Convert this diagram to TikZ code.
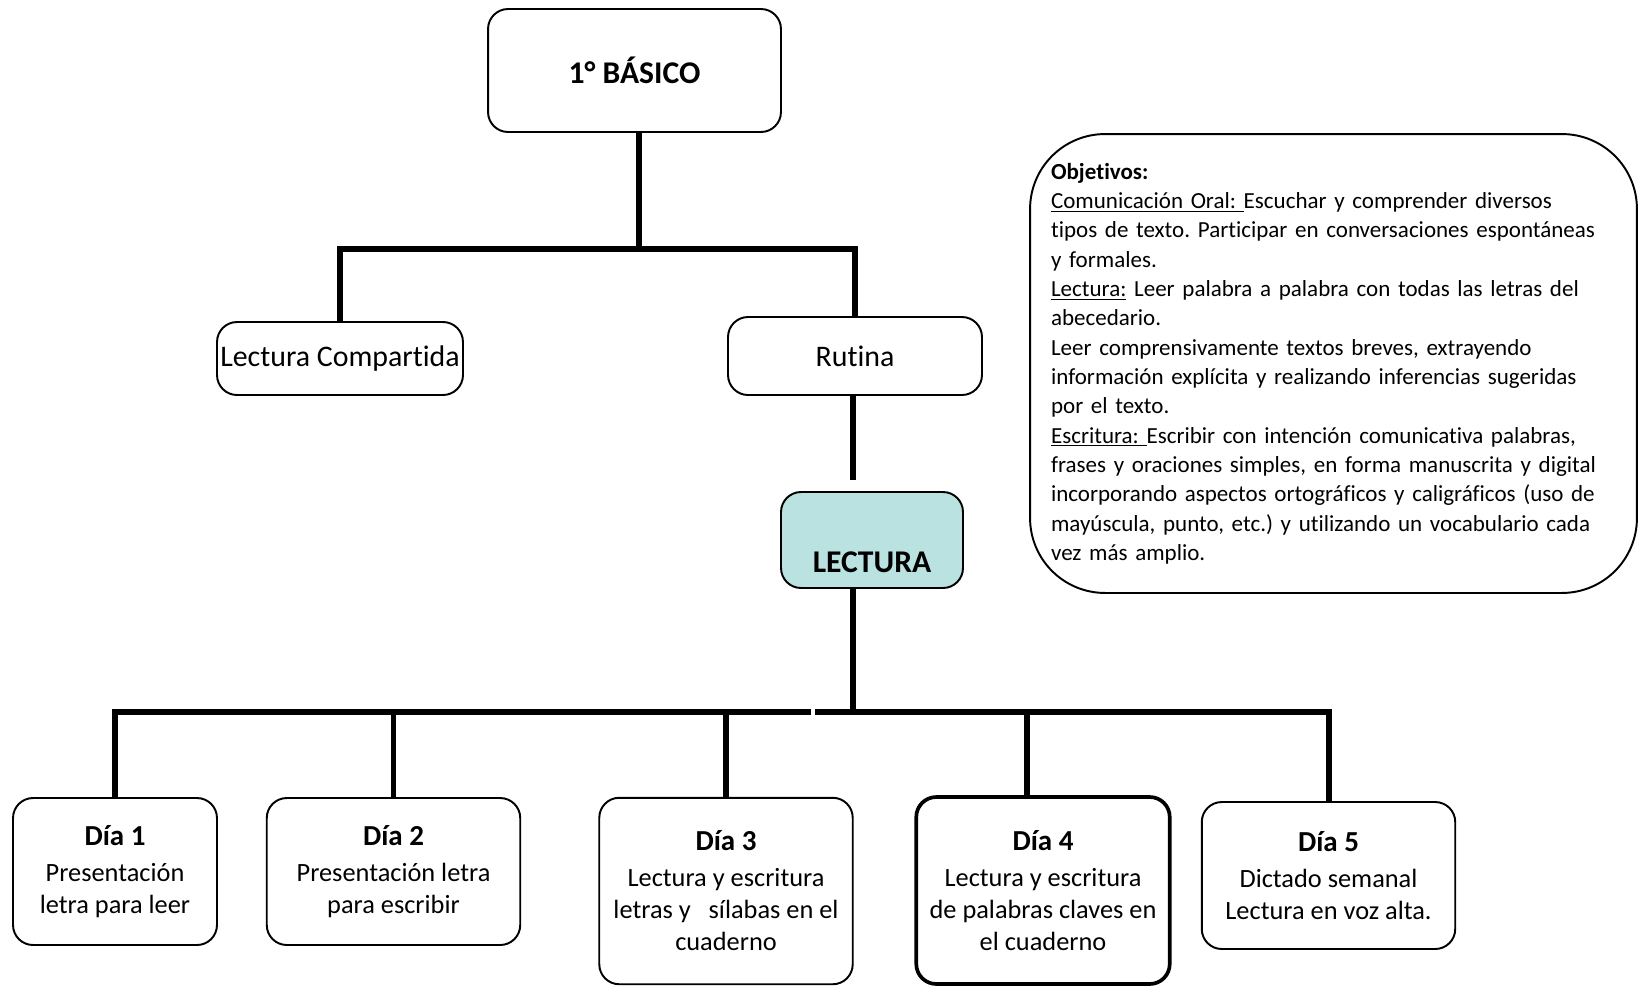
\documentclass[tikz,border=0pt]{standalone}
\usepackage{fontspec}
\setmainfont{Carlito}[Ligatures=NoCommon]
\usepackage{tikz}
\usetikzlibrary{positioning,calc}
\definecolor{lecturateal}{RGB}{185,226,225}
\newcommand{\diatitle}[1]{{\fontsize{16.5}{19}\selectfont\bfseries #1}\\[2pt]}
\tikzset{
  mapbox/.style={
    draw,rounded corners=0.4cm,line width=1.1pt,align=center,
    inner sep=0pt,fill=white
  },
  topbox/.style={mapbox,font=\fontsize{17}{20.7}\selectfont},
  daybox/.style={mapbox,minimum width=5.07cm,minimum height=2.94cm,
    font=\fontsize{15}{18.3}\selectfont},
  goalbox/.style={
    draw,rounded corners=1.5cm,line width=1.1pt,align=left,inner xsep=0.42cm,
    inner ysep=0pt,text width=11.3cm,minimum height=9.18cm,
    font=\fontsize{13.1}{16.7}\selectfont\frenchspacing
  },
  treeline/.style={line width=3.4pt}
}

\begin{document}
\begin{tikzpicture}[x=0.02cm,y=-0.02cm]
  \useasboundingbox (0,0) rectangle (1640,985);
  \node[mapbox,minimum width=5.86cm,minimum height=2.46cm,
    font=\fontsize{18}{22}\selectfont\bfseries] (basico) at (634.5,70.5) {1° BÁSICO};
  \node[topbox,minimum width=4.92cm,minimum height=1.46cm] (compartida) at (340,358.5) {Lectura Compartida};
  \node[topbox,minimum width=5.08cm,minimum height=1.56cm] (rutina) at (855,356) {Rutina};
  \node[mapbox,fill=lecturateal,minimum width=3.64cm,minimum height=1.92cm,
    font=\fontsize{18}{22}\selectfont\bfseries] (lectura) at (872,540) {\strut\\LECTURA};
  \node[goalbox] (objetivos) at (1333.5,363.5) {%
    \textbf{Objetivos:}\\
    \underline{Comunicación Oral:\ }Escuchar y comprender diversos\\
    tipos de texto. Participar en conversaciones espontáneas\\
    y formales.\\
    \underline{Lectura:} Leer palabra a palabra con todas las letras del\\
    abecedario.\\
    Leer comprensivamente textos breves, extrayendo\\
    información explícita y realizando inferencias sugeridas\\
    por el texto.\\
    \underline{Escritura:\ }Escribir con intención comunicativa palabras,\\
    frases y oraciones simples, en forma manuscrita y digital\\
    incorporando aspectos ortográficos y caligráficos (uso de\\
    mayúscula, punto, etc.) y utilizando un vocabulario cada\\
    vez más amplio.};

  % dias de la semana
  \node[daybox,minimum width=4.08cm] (dia1) at (115,871.5)
    {\diatitle{Día 1}Presentación\\letra para leer};
  \node[daybox] (dia2) at (393.5,871.5)
    {\diatitle{Día 2}Presentación letra\\para escribir};
  \node[daybox,minimum height=3.73cm] (dia3) at (726,891)
    {\diatitle{Día 3}Lectura y escritura\\letras y\ \ \ sílabas en el\\cuaderno};
  \node[daybox,minimum height=3.74cm,line width=2.1pt] (dia4) at (1043,890.5)
    {\diatitle{Día 4}Lectura y escritura\\de palabras claves en\\el cuaderno};
  \node[daybox] (dia5) at (1328.5,875.5)
    {\diatitle{Día 5}Dictado semanal\\Lectura en voz alta.};

  % conectores
  \coordinate (bus1) at (639,249);
  \coordinate (gap) at (853,480);
  \coordinate (bus2) at (853,712);
  \coordinate (gapL) at (811,712);
  \coordinate (gapR) at (815,712);
  \coordinate (dia4top) at (1027,797);
  \draw[treeline] (basico.south -| bus1) -- (bus1);
  \draw[treeline] (compartida.north) |- (bus1) -| (rutina.north);
  \draw[treeline] (rutina.south -| gap) -- (gap);
  \draw[treeline] (lectura.south -| bus2) -- (bus2);
  \draw[treeline] (dia1.north) |- (gapL);
  \draw[treeline] (gapR) -| (dia5.north);
  \foreach \d in {dia2,dia3}
    \draw[treeline] (\d.north) -- (\d.north |- bus2);
  \draw[treeline] (dia4top) -- (dia4top |- bus2);
\end{tikzpicture}
\end{document}
